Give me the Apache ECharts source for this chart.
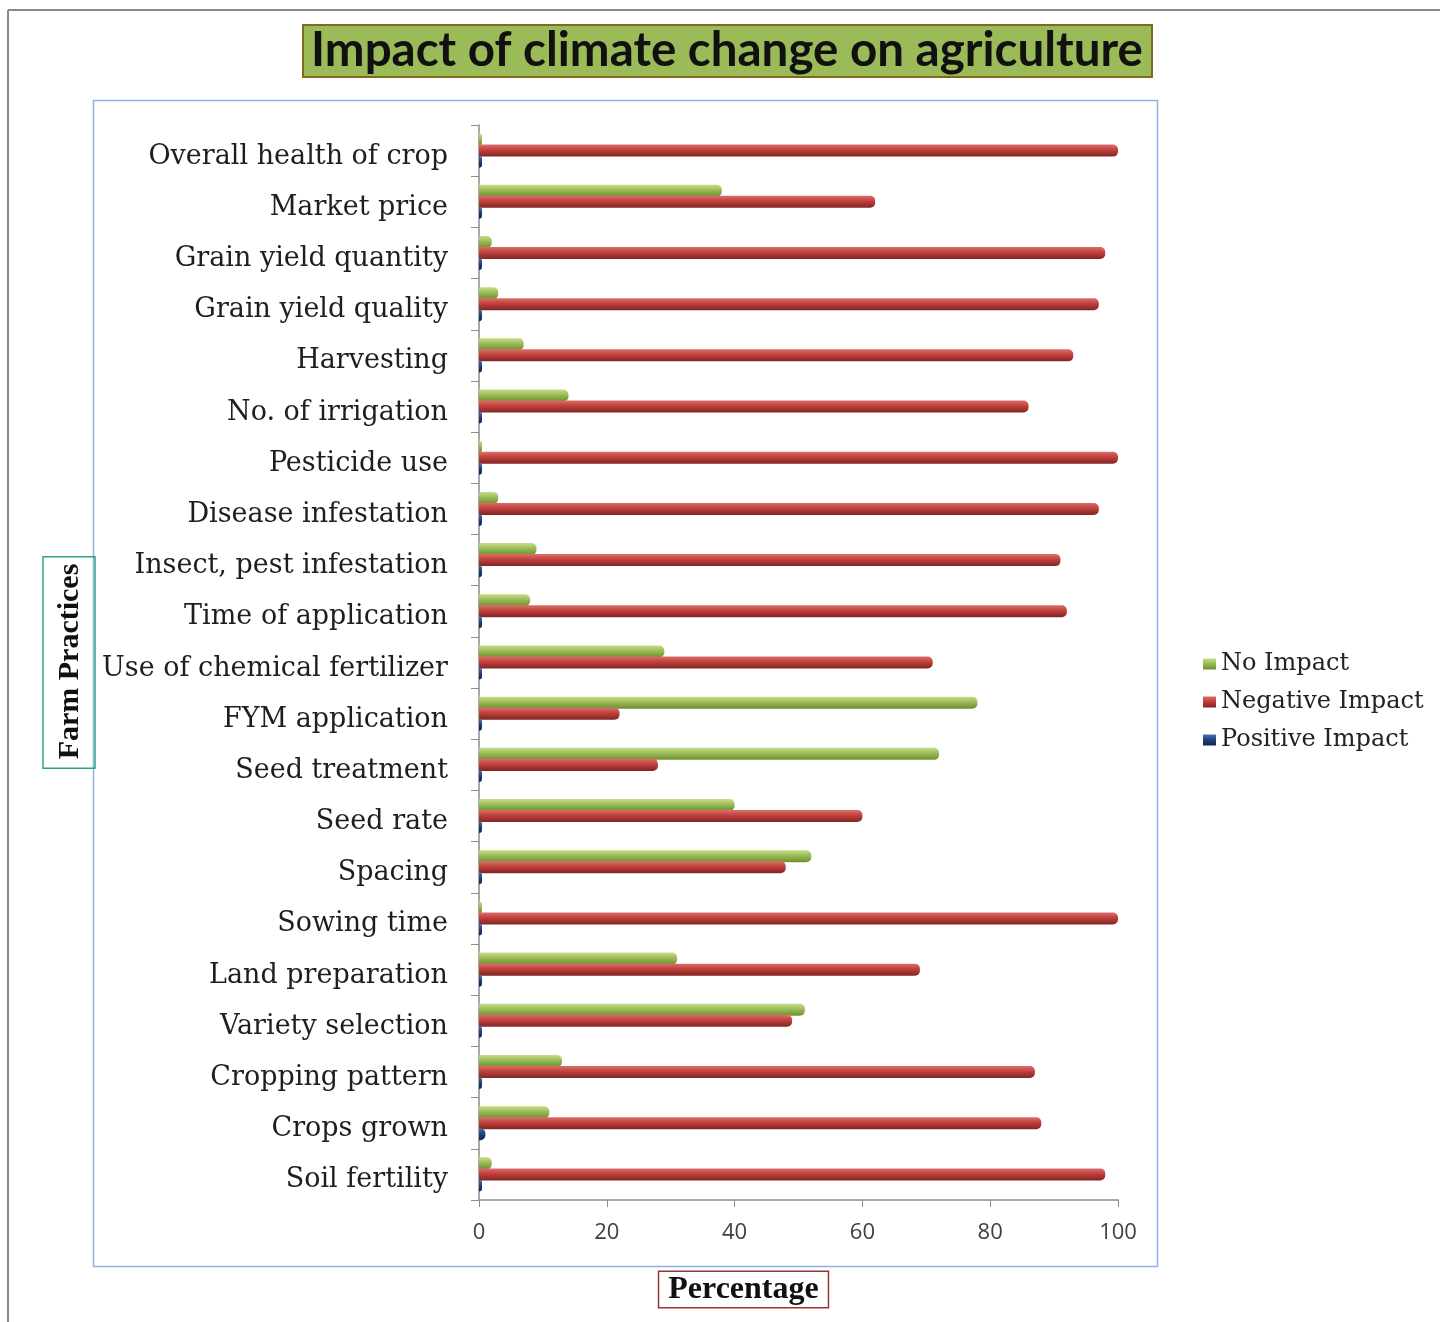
<!DOCTYPE html>
<html>
<head>
<meta charset="utf-8">
<script src="https://cdn.jsdelivr.net/npm/echarts@6/dist/echarts.min.js"></script>
<style>
html,body{margin:0;padding:0;background:#fff;}
#chart{width:1440px;height:1322px;}
</style>
</head>
<body>
<div id="chart"></div>
<script>
// Categories, listed top to bottom as in the figure
const categories = [
  'Overall health of crop', 'Market price', 'Grain yield quantity', 'Grain yield quality',
  'Harvesting', 'No. of irrigation', 'Pesticide use', 'Disease infestation',
  'Insect, pest infestation', 'Time of application', 'Use of chemical fertilizer',
  'FYM application', 'Seed treatment', 'Seed rate', 'Spacing', 'Sowing time',
  'Land preparation', 'Variety selection', 'Cropping pattern', 'Crops grown', 'Soil fertility'
];
const seriesNames = ['No Impact', 'Negative Impact', 'Positive Impact'];
const noImpact       = [0, 38, 2, 3, 7, 14, 0, 3, 9, 8, 29, 78, 72, 40, 52, 0, 31, 51, 13, 11, 2];
const negativeImpact = [100, 62, 98, 97, 93, 86, 100, 97, 91, 92, 71, 22, 28, 60, 48, 100, 69, 49, 87, 88, 98];
const positiveImpact = [0, 0, 0, 0, 0, 0, 0, 0, 0, 0, 0, 0, 0, 0, 0, 0, 0, 0, 0, 1, 0];
const xTicks = [0, 20, 40, 60, 80, 100];

const chart = echarts.init(document.getElementById('chart'));
const G = echarts.graphic.LinearGradient;
const green = new G(0, 0, 0, 1, [
  {offset: 0, color: '#c4df86'}, {offset: 0.45, color: '#9bbb59'}, {offset: 1, color: '#6f8f30'}
]);
const red = new G(0, 0, 0, 1, [
  {offset: 0, color: '#dc6e6a'}, {offset: 0.45, color: '#c0403c'}, {offset: 1, color: '#7f2623'}
]);
const blue = new G(0, 0, 0, 1, [
  {offset: 0, color: '#4a6fae'}, {offset: 0.5, color: '#1f3f7a'}, {offset: 1, color: '#0f2450'}
]);

function barSeries(name, data, color, minH) {
  return {
    name: name,
    type: 'bar',
    data: data,
    barWidth: 12,
    barGap: '-8%',
    barMinHeight: minH,
    itemStyle: {color: color, borderRadius: [0, 5, 5, 0]},
    emphasis: {disabled: true}
  };
}

const option = {
  backgroundColor: '#ffffff',
  animation: false,
  title: {
    text: 'Impact of climate change on agriculture',
    left: 727,
    top: 25,
    textAlign: 'center',
    textStyle: {fontFamily: 'Lato', fontWeight: 'bold', fontSize: 47.5, color: '#111', lineHeight: 52},
    padding: 0
  },
  graphic: [
    {type: 'line', shape: {x1: 8, y1: 10, x2: 1440, y2: 10}, style: {stroke: '#8a8a8a', lineWidth: 2}, z: -10},
    {type: 'line', shape: {x1: 8, y1: 10, x2: 8, y2: 1322}, style: {stroke: '#8a8a8a', lineWidth: 2}, z: -10},
    {type: 'rect', shape: {x: 93.5, y: 100.5, width: 1064, height: 1166}, style: {fill: 'none', stroke: '#8db3e2', lineWidth: 1.5}, z: -10},
    {type: 'rect', shape: {x: 303, y: 25, width: 849, height: 52}, style: {fill: '#9bbb59', stroke: '#7f6a1e', lineWidth: 2}, z: -5}
  ],
  legend: {
    orient: 'vertical',
    left: 1198,
    top: 647,
    itemWidth: 13,
    itemHeight: 11,
    itemGap: 14,
    icon: 'rect',
    data: seriesNames,
    textStyle: {fontFamily: 'DejaVu Serif', fontSize: 24, color: '#222'}
  },
  grid: {left: 479, top: 125, width: 639, height: 1075, containLabel: false},
  xAxis: {
    type: 'value',
    min: 0,
    max: 100,
    interval: 20,
    splitLine: {show: false},
    axisLine: {show: true, lineStyle: {color: '#8c8c8c', width: 1.5}},
    axisTick: {show: true, length: 7, lineStyle: {color: '#8c8c8c'}},
    axisLabel: {
      margin: 22, fontFamily: 'Open Sans', fontSize: 22, color: '#404040',
      formatter: function (v) { return xTicks.indexOf(v) >= 0 ? String(v) : ''; }
    },
    name: '{t|Percentage}{s|}',
    nameLocation: 'middle',
    nameGap: 72,
    nameTextStyle: {
      rich: {
        t: {fontFamily: 'Liberation Serif', fontWeight: 'bold', fontSize: 32, color: '#111',
            borderColor: '#953735', borderWidth: 1.5, backgroundColor: '#fff', padding: [2, 9, 1, 9]},
        s: {width: 110}
      }
    }
  },
  yAxis: {
    type: 'category',
    data: categories,
    inverse: true,
    axisLine: {show: true, lineStyle: {color: '#8c8c8c', width: 1.5}},
    axisTick: {show: true, length: 8, lineStyle: {color: '#8c8c8c'}},
    axisLabel: {
      margin: 31, fontFamily: 'DejaVu Serif', fontSize: 27, color: '#1e1e1e',
      verticalAlign: 'top', lineHeight: 12
    },
    name: 'Farm Practices',
    nameLocation: 'middle',
    nameRotate: 90,
    nameGap: 384,
    nameTextStyle: {
      fontFamily: 'Liberation Serif', fontWeight: 'bold', fontSize: 30, color: '#111',
      borderColor: '#2fa387', borderWidth: 1.5, padding: [9, 7, 7, 9], lineHeight: 36
    }
  },
  series: [
    barSeries(seriesNames[0], noImpact, green, 3),
    barSeries(seriesNames[1], negativeImpact, red, 0),
    barSeries(seriesNames[2], positiveImpact, blue, 3)
  ]
};
chart.setOption(option);
</script>
</body>
</html>
